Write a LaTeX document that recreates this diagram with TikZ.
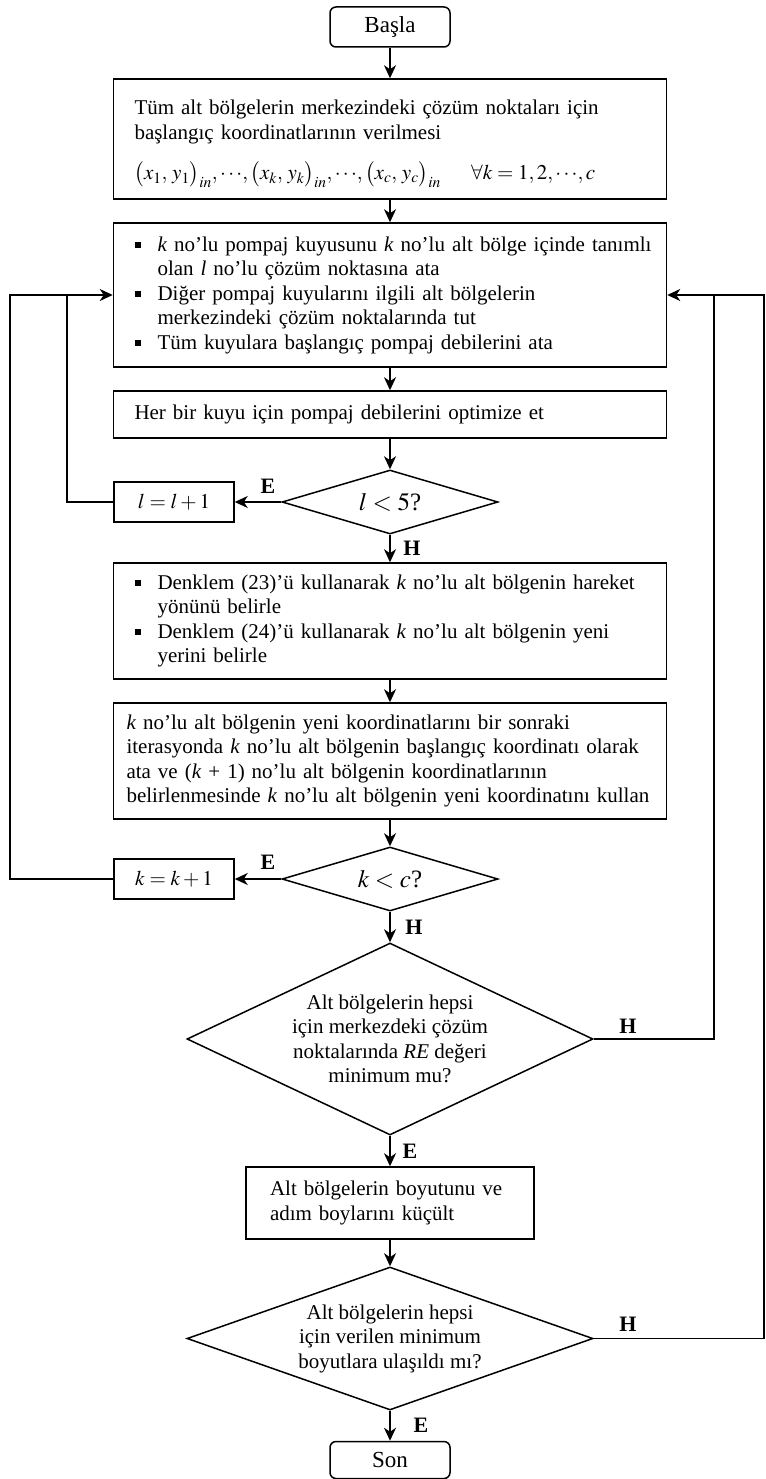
\documentclass[tikz,border=0pt]{standalone}
\usepackage{mathptmx}
\usepackage{fontspec}
\setmainfont{Liberation Serif}
\usetikzlibrary{arrows.meta,shapes.geometric}

% square bullet with hanging indent for list lines
\newcommand\sqbul{\makebox[23pt][l]{\rule[3.5pt]{6pt}{6pt}}}
\newcommand\hang{\hspace*{23pt}}
% one coordinate pair with the "in" subscript
\newcommand\pairin[2]{\bigl(x_{#1},\, y_{#2}\bigr)_{in}}

\begin{document}
\begin{tikzpicture}[x=1pt,y=-1pt,line width=1.5pt,
  >={Stealth[length=13pt,width=12pt,inset=4pt]},
  txt/.style={font=\fontsize{21}{24.5}\selectfont},
  box/.style={draw,rectangle,txt,align=left,text width=511pt,inner xsep=21pt,
    inner ysep=0pt,minimum height=#1},
  small/.style={draw,rectangle,font=\fontsize{21}{24}\selectfont,
    minimum width=120pt,minimum height=40pt,inner sep=0pt},
  term/.style={draw,rectangle,rounded corners=6pt,font=\fontsize{23}{26}\selectfont,
    minimum width=120pt,minimum height=40pt,inner sep=0pt},
  decision/.style={draw,diamond,inner sep=0pt,minimum width=216pt,minimum height=64pt},
  dtext/.style={txt,align=center},
  ctext/.style={font=\fontsize{25}{28}\selectfont},
  tag/.style={font=\fontsize{22}{24}\selectfont\bfseries,inner sep=0pt}]

\useasboundingbox (0,0) rectangle (765,1479);

% process boxes
\node[term] (start) at (390,27) {Başla};

\node[box=120pt] (init) at (390,139) {\rule{0pt}{25pt}Tüm alt bölgelerin merkezindeki çözüm noktaları için\\
başlangıç koordinatlarının verilmesi\\[16pt]
\mbox{$\pairin{1}{1}, \cdots\!, \pairin{k}{k}, \cdots\!, \pairin{c}{c}\quad\;\; \forall k = 1, 2, \cdots\!, c$}};

\node[box=144pt] (assign) at (390,295) {\mbox{\sqbul\textit{k} no’lu pompaj kuyusunu \textit{k} no’lu alt bölge içinde tanımlı}\\
\hang olan \textit{l} no’lu çözüm noktasına ata\\
\sqbul Diğer pompaj kuyularını ilgili alt bölgelerin\\
\hang merkezindeki çözüm noktalarında tut\\
\sqbul Tüm kuyulara başlangıç pompaj debilerini ata};

\node[box=47pt] (opt) at (390,414.5) {Her bir kuyu için pompaj debilerini optimize et};

\node[decision] (lcheck) at (390,502) {};
\node[ctext] (ltext) at (lcheck.center) {$l < 5$?};
\node[small] (lnext) at (174,502) {$l = l + 1$};

\node[box=116pt] (move) at (390,621) {\mbox{\sqbul Denklem (23)’ü kullanarak \textit{k} no’lu alt bölgenin hareket}\\
\hang yönünü belirle\\
\mbox{\sqbul Denklem (24)’ü kullanarak \textit{k} no’lu alt bölgenin yeni}\\
\hang yerini belirle};

\node[box=116pt,inner xsep=13pt,text width=527pt] (update) at (390,761) {\textit{k} no’lu alt bölgenin yeni koordinatlarını bir sonraki\\
\mbox{iterasyonda \textit{k} no’lu alt bölgenin başlangıç koordinatı olarak}\\
ata ve (\textit{k} + 1) no’lu alt bölgenin koordinatlarının\\
\mbox{belirlenmesinde \textit{k} no’lu alt bölgenin yeni koordinatını kullan}};

\node[decision] (kcheck) at (390,879) {};
\node[ctext] (ktext) at (kcheck.center) {$k < c$?};
\node[small] (knext) at (174,879) {$k = k + 1$};

\node[decision,minimum width=406pt,minimum height=192pt] (recheck) at (390,1039) {};
\node[dtext] (retext) at (recheck.center) {Alt bölgelerin hepsi\\ için merkezdeki çözüm\\ noktalarında \textit{RE} değeri\\ minimum mu?};

\node[box=72pt,text width=240pt,inner xsep=24pt] (shrink) at (390,1203) {Alt bölgelerin boyutunu ve\\ adım boylarını küçült};

\node[decision,minimum width=406pt,minimum height=143pt] (sizecheck) at (390,1338.5) {};
\node[dtext] (sizetext) at (sizecheck.center) {Alt bölgelerin hepsi\\ için verilen minimum\\ boyutlara ulaşıldı mı?};

\node[term,minimum height=37pt] (stop) at (390,1460) {Son};

% loop junctions
\coordinate (lj) at (67,295);
\coordinate (kj) at (10,295);
\coordinate (rj) at (714,295);
\coordinate (rk) at (764,295);

% main flow
\draw[->] (start) -- (init);
\draw[->] (init) -- (assign);
\draw[->] (assign) -- (opt);
\draw[->] (opt) -- (lcheck);
\draw[->] (lcheck) -- (move);
\draw[->] (lcheck) -- (lnext);
\draw[->] (move) -- (update);
\draw[->] (update) -- (kcheck);
\draw[->] (kcheck) -- (knext);
\draw[->] (kcheck) -- (recheck);
\draw[->] (recheck) -- (shrink);
\draw[->] (shrink) -- (sizecheck);
\draw[->] (sizecheck) -- (stop);

% feedback loops
\draw[->] (lnext.west) -| (lj) -- (assign.west);
\draw (knext.west) -| (kj) -- (lj);
\draw[->] (recheck.east) -| (rj) -- (assign.east);
\draw (sizecheck.east) -| (rk) -- (rj);

% branch labels
\node[tag] (le) at (268,486) {E};
\node[tag] (lh) at (412,548) {H};
\node[tag] (ke) at (268,862) {E};
\node[tag] (kh) at (414,927) {H};
\node[tag] (rh) at (628,1026) {H};
\node[tag] (re) at (410,1151) {E};
\node[tag] (sh) at (628,1324) {H};
\node[tag] (se) at (421,1425) {E};
\end{tikzpicture}
\end{document}
